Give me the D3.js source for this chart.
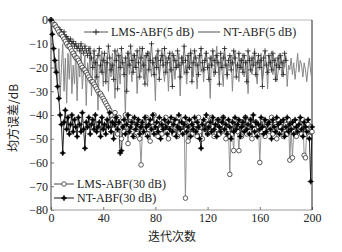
<!DOCTYPE html>
<html>
<head>
<meta charset="utf-8">
<script src="https://cdn.jsdelivr.net/npm/d3@7"></script>
<style>
  body { margin: 0; background: #fff; }
  svg { display: block; }
  text { font-family: "Liberation Serif", "DejaVu Serif", serif; font-size: 12px; fill: #222; }
  .cjk { font-family: "Noto Sans CJK SC", sans-serif; font-size: 12px; }
</style>
</head>
<body>
<div id="chart"></div>
<script>
// iterations 0..200
const iterations = d3.range(0, 201);

// LMS-ABF(5 dB)
const lms5 = [
  0,-1,-1,-2,-3,-3,-4,-4,-5,-6,-5,-7,-7,-8,-9,-8,-10,-9,-11,-10,-12,-11,-13,-10,-12,-14,-11,-13,-15,-12,-14,
  -16,-20,-13,-18,-24,-15,-12,-19,-22,-17,-14,-26,-18,-11,-16,-21,-19,-25,-13,-17,
  -29,-15,-20,-12,-18,-23,-16,-30,-14,-19,-11,-17,-22,-15,-20,-13,-18,-24,-16,-12,
  -19,-27,-15,-14,-21,-17,-10,-18,-23,-16,-20,-13,-25,-17,-15,-19,-12,-22,-18,-16,
  -14,-21,-28,-15,-17,-20,-13,-19,-24,-16,-18,-11,-17,-22,-15,-20,-14,-26,-18,-13,
  -16,-19,-23,-15,-12,-18,-21,-17,-14,-20,-25,-16,-19,-13,-17,-22,-15,-18,-27,-14,
  -20,-16,-12,-19,-23,-17,-15,-21,-18,-13,-16,-24,-19,-14,-20,-17,-22,-15,-18,-26,
  -13,-17,-21,-16,-19,-14,-23,-18,-15,-20,-17,-28,-16,-13,-19,-22,-15,-18,-21,-14,
  -17,-25,-19,-16,-20,-15,-18,-23,-14,-17
];

// NT-ABF(5 dB)
const nt5 = [
  0,-8,-15,-22,-18,-28,-12,-33,-20,-10,-30,-16,-35,-14,-25,-11,-31,-19,-27,-13,-34,-17,-24,-12,-29,-21,-15,-36,-18,-23,
  -11,-32,-20,-14,-27,-16,-38,-19,-22,-13,-28,-17,-25,-15,-30,
  -18,-24,-14,-21,-33,-16,-12,-20,-27,-15,-19,-22,-40,-17,-13,-23,-18,-26,-14,-20,
  -16,-31,-19,-11,-22,-17,-25,-15,-21,-28,-13,-18,-24,-16,-20,-34,-14,-19,-23,-17,
  -12,-21,-26,-15,-18,-30,-16,-22,-13,-19,-25,-17,-20,-14,-32,-18,-15,-23,-19,-27,
  -16,-21,-12,-18,-24,-15,-20,-29,-17,-14,-22,-19,-26,-16,-13,-21,-18,-33,-15,-20,
  -24,-17,-11,-19,-23,-16,-21,-28,-14,-18,-25,-17,-20,-15,-30,-19,-13,-22,-18,-26,
  -16,-21,-14,-24,-19,-17,-31,-15,-20,-23,-18,-12,-22,-27,-16,-19,-14,-25,-21,-17,
  -18,-29,-15,-20,-13,-23,-19,-16,-26,-22,-14,-18,-24,-17,-20,-15,-28,-19,-21,-16,
  -23,-18,-25,-20,-14,-22,-17,-19,-24,-18,-21,-26,-20,-16,-22,-25
];

// LMS-ABF(30 dB)
const lms30 = [
  0,-1,-2,-2,-3,-4,-5,-6,-6,-7,-8,-9,-10,-11,-11,-12,-13,-14,-15,-16,
  -16,-17,-18,-19,-20,-21,-21,-22,-23,-24,-25,-26,-26,-27,-28,-29,-30,-31,-31,-32,
  -33,-34,-35,-36,-37,-38,-40,
  -42,-46,-39,-44,-48,-41,-45,-50,-43,-47,-40,-45,-52,-44,-41,-47,-45,-49,-42,-46,
  -44,-50,-61,-47,-43,-45,-41,-48,-46,-51,-43,-45,-40,-47,-44,-49,-42,-46,-48,-43,
  -45,-41,-47,-50,-44,-46,-42,-48,-45,-43,-49,-41,-46,-44,-47,-42,-75,-46,-51,-43,
  -45,-48,-42,-46,-44,-49,-41,-47,-45,-50,-43,-46,-42,-48,-44,-47,-41,-45,-49,-43,
  -46,-42,-48,-44,-47,-41,-45,-50,-43,-46,-65,-44,-48,-55,-42,-46,-47,-55,-44,-49,
  -43,-46,-41,-48,-45,-47,-42,-50,-44,-46,-43,-48,-45,-60,-47,-42,-46,-49,-44,-43,
  -47,-45,-41,-48,-46,-44,-50,-42,-47,-45,-43,-49,-46,-44,-48,-42,-59,-45,-58,-47,
  -44,-49,-43,-46,-45,-48,-42,-57,-58,-46,-44,-49,-45,-47
];

// NT-ABF(30 dB)
const nt30 = [
  0,-6,-12,-17,-22,-28,-33,-40,-44,-56,
  -43,-38,-46,-41,-48,-44,-40,-47,-42,-45,-49,-41,-44,-47,-39,-46,-54,-43,-45,-41,
  -48,-44,-42,-46,-40,-47,-45,-43,-49,-41,-46,-44,-48,-42,-45,-39,-47,-43,-50,-44,
  -41,-46,-43,-56,-55,-45,-42,-48,-44,-40,-47,-45,-43,-49,-41,-46,-44,-42,-48,-45,
  -43,-47,-41,-45,-49,-44,-42,-46,-40,-48,-45,-43,-47,-41,-50,-44,-46,-42,-45,-48,
  -43,-46,-41,-47,-44,-42,-49,-45,-40,-46,-43,-48,-44,-41,-47,-45,-42,-49,-44,-46,
  -41,-47,-43,-45,-50,-54,-44,-42,-46,-40,-48,-45,-43,-47,-41,-46,-44,-49,-42,-45,
  -47,-43,-41,-46,-44,-48,-42,-45,-50,-43,-47,-41,-46,-44,-42,-49,-45,-43,-47,-41,
  -46,-44,-48,-42,-45,-40,-47,-43,-49,-44,-46,-41,-45,-48,-42,-47,-44,-43,-46,-50,
  -42,-45,-47,-41,-44,-48,-43,-46,-42,-49,-45,-41,-47,-44,-46,-43,-48,-42,-45,-47,
  -44,-41,-46,-49,-43,-45,-47,-42,-50,-68,-45
];

const xTicks = [0, 40, 80, 120, 160, 200];
const yTicks = [0, -10, -20, -30, -40, -50, -60, -70, -80];

const width = 342, height = 252;

const svg = d3.select('#chart')
  .append('svg')
    .attr('width', width)
    .attr('height', height);

const x = d3.scaleLinear().domain([0, 200]).range([51, 312]);
const y = d3.scaleLinear().domain([-80, 0]).range([210, 20]);

// axes (ticks point inward)
const gx = svg.append('g')
  .attr('transform', `translate(0,${y(-80)})`)
  .call(d3.axisBottom(x).tickValues(xTicks).tickSize(-3).tickPadding(3));
const gy = svg.append('g')
  .attr('transform', `translate(${x(0)},0)`)
  .call(d3.axisLeft(y).tickValues(yTicks).tickSize(-3).tickPadding(3));
[gx, gy].forEach(g => {
  g.select('.domain').remove();
  g.selectAll('.tick line').attr('stroke', '#777');
  g.selectAll('.tick text').attr('font-size', 12).attr('fill', '#222')
    .attr('font-family', '"Liberation Serif", serif');
});

// frame
svg.append('line').attr('x1', x(0)).attr('x2', x(200)).attr('y1', y(0)).attr('y2', y(0)).attr('stroke', '#bbb');
svg.append('line').attr('x1', x(0)).attr('x2', x(200)).attr('y1', y(-80)).attr('y2', y(-80)).attr('stroke', '#999');
svg.append('line').attr('x1', x(0)).attr('x2', x(0)).attr('y1', y(0)).attr('y2', y(-80)).attr('stroke', '#444');
svg.append('line').attr('x1', x(200)).attr('x2', x(200)).attr('y1', y(0)).attr('y2', y(-80)).attr('stroke', '#222');

const line = d3.line()
  .x((d, i) => x(iterations[i]))
  .y(d => y(d));

const plot = svg.append('g');

function plus(g, cx, cy, r, color) {
  g.append('path')
    .attr('d', `M${cx - r},${cy}H${cx + r}M${cx},${cy - r}V${cy + r}`)
    .attr('stroke', color).attr('stroke-width', 0.8).attr('fill', 'none');
}
function star(g, cx, cy, color) {
  g.append('path')
    .attr('d', `M${cx},${cy - 3}L${cx + 1},${cy - 1}L${cx + 3},${cy}L${cx + 1},${cy + 1}L${cx},${cy + 3}L${cx - 1},${cy + 1}L${cx - 3},${cy}L${cx - 1},${cy - 1}Z`)
    .attr('fill', color).attr('stroke', color).attr('stroke-width', 0.4);
}
function ring(g, cx, cy, color) {
  g.append('circle').attr('cx', cx).attr('cy', cy).attr('r', 2.3)
    .attr('fill', '#fff').attr('stroke', color).attr('stroke-width', 0.8);
}

// NT-ABF(5 dB) gray line
plot.append('path').datum(nt5).attr('d', line)
  .attr('fill', 'none').attr('stroke', '#888').attr('stroke-width', 1);

// LMS-ABF(5 dB) line + '+' markers
plot.append('path').datum(lms5).attr('d', line)
  .attr('fill', 'none').attr('stroke', '#666').attr('stroke-width', 0.9);
const gLms5 = plot.append('g');
lms5.forEach((v, i) => plus(gLms5, x(iterations[i]), y(v), 2.6, '#222'));

// LMS-ABF(30 dB) line
plot.append('path').datum(lms30).attr('d', line)
  .attr('fill', 'none').attr('stroke', '#888').attr('stroke-width', 0.9);
// NT-ABF(30 dB) line
plot.append('path').datum(nt30).attr('d', line)
  .attr('fill', 'none').attr('stroke', '#111').attr('stroke-width', 0.9);

const gLms30 = plot.append('g');
lms30.forEach((v, i) => ring(gLms30, x(iterations[i]), y(v), '#333'));
const gNt30 = plot.append('g');
nt30.forEach((v, i) => star(gNt30, x(iterations[i]), y(v), '#000'));

// legends
const legendTop = [
  { label: 'LMS-ABF(5 dB)', x0: 84, x1: 108, y: 32, color: '#555', mark: 'plus' },
  { label: 'NT-ABF(5 dB)', x0: 198, x1: 220, y: 32, color: '#555', mark: null }
];
const legendBottom = [
  { label: 'LMS-ABF(30 dB)', x0: 54, x1: 74, y: 184, color: '#444', mark: 'ring' },
  { label: 'NT-ABF(30 dB)', x0: 54, x1: 74, y: 198, color: '#111', mark: 'star' }
];
legendTop.concat(legendBottom).forEach(d => {
  svg.append('line').attr('x1', d.x0).attr('x2', d.x1).attr('y1', d.y).attr('y2', d.y)
    .attr('stroke', d.color).attr('stroke-width', 1);
  const cx = (d.x0 + d.x1) / 2;
  if (d.mark === 'plus') plus(svg, cx, d.y, 3, '#111');
  if (d.mark === 'ring') ring(svg, cx, d.y, '#333');
  if (d.mark === 'star') star(svg, cx, d.y, '#000');
  svg.append('text').attr('x', d.x1 + 3).attr('y', d.y + 4).text(d.label);
});

// axis titles
svg.append('text').attr('class', 'cjk')
  .attr('x', 172).attr('y', 241).attr('text-anchor', 'middle')
  .text('迭代次数');
svg.append('text').attr('class', 'cjk')
  .attr('transform', 'translate(18,118) rotate(-90)')
  .attr('text-anchor', 'middle')
  .text('均方误差/dB');
</script>
</body>
</html>
